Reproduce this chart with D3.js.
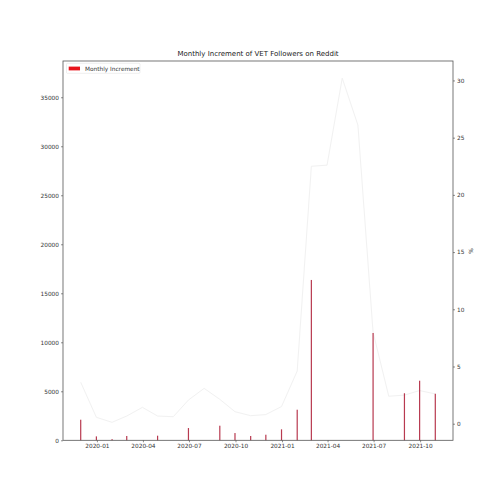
<!DOCTYPE html>
<html>
<head>
<meta charset="utf-8">
<script src="https://cdn.jsdelivr.net/npm/d3@7"></script>
<style>
  body { margin: 0; background: #fff; }
  text { font-family: "DejaVu Sans", sans-serif; }
</style>
</head>
<body>
<script>
const WIDTH = 503;
const HEIGHT = 503;

// month-end dates
const months = [
  "2019-11-30", "2019-12-31", "2020-01-31", "2020-02-29", "2020-03-31", "2020-04-30",
  "2020-05-31", "2020-06-30", "2020-07-31", "2020-08-31", "2020-09-30", "2020-10-31",
  "2020-11-30", "2020-12-31", "2021-01-31", "2021-02-28", "2021-03-31", "2021-04-30",
  "2021-05-31", "2021-06-30", "2021-07-31", "2021-08-31", "2021-09-30", "2021-10-31"
];

// monthly increment (left axis)
const increments = [
  2100, 400, 120, 440, 0, 470,
  0, 1250, 0, 1490, 740, 440,
  570, 1120, 3120, 16360, 0, 0,
  0, 10950, 0, 4800, 6080, 4750
];

// growth in % (right axis)
const growthPct = [
  3.62, 0.56, 0.12, 0.67, 1.43, 0.67,
  0.61, 2.07, 3.09, 2.13, 1.05, 0.7,
  0.8, 1.5, 4.6, 22.5, 22.6, 30.2,
  26.1, 8.0, 2.4, 2.5, 2.9, 2.6
];

const leftTicks = [0, 5000, 10000, 15000, 20000, 25000, 30000, 35000];
const rightTicks = [0, 5, 10, 15, 20, 25, 30];
const xTickLabels = ["2020-01", "2020-04", "2020-07", "2020-10", "2021-01", "2021-04", "2021-07", "2021-10"];

const parseDay = d3.utcParse("%Y-%m-%d");
const parseMonth = d3.utcParse("%Y-%m");
const dates = months.map(parseDay);

const plot = { left: 63, right: 453, top: 61, bottom: 440.3 };

const svg = d3.select("body")
  .append("svg")
  .attr("width", WIDTH)
  .attr("height", HEIGHT);

const x = d3.scaleUtc()
  .domain([d3.utcDay.offset(dates[0], -35), d3.utcDay.offset(dates[dates.length - 1], 35)])
  .range([plot.left, plot.right]);

const yLeft = d3.scaleLinear()
  .domain([0, 38700])
  .range([plot.bottom, plot.top]);

const yRight = d3.scaleLinear()
  .domain([-1.45, 31.7])
  .range([plot.bottom, plot.top]);

// faint growth line
const line = d3.line()
  .x((d, i) => x(dates[i]))
  .y(d => yRight(d));

svg.append("path")
  .datum(growthPct)
  .attr("fill", "none")
  .attr("stroke", "#f1f1f1")
  .attr("stroke-width", 1)
  .attr("d", line);

// bars
svg.selectAll(".bar")
  .data(increments)
  .enter()
  .append("rect")
  .attr("class", "bar")
  .attr("x", (d, i) => x(dates[i]) - 0.6)
  .attr("width", 1.2)
  .attr("y", d => yLeft(d))
  .attr("height", d => yLeft(0) - yLeft(d))
  .attr("fill", "#b83a50");

// frame
svg.append("rect")
  .attr("x", plot.left)
  .attr("y", plot.top)
  .attr("width", plot.right - plot.left)
  .attr("height", plot.bottom - plot.top)
  .attr("fill", "none")
  .attr("stroke", "#555")
  .attr("stroke-width", 0.8);

const styleAxis = g => {
  g.select(".domain").remove();
  g.selectAll("line").attr("stroke", "#444").attr("stroke-width", 0.6);
  g.selectAll("text")
    .style("font-size", "5.8px")
    .style("font-family", "DejaVu Sans, sans-serif")
    .style("fill", "#333");
};

svg.append("g")
  .attr("transform", `translate(${plot.left},0)`)
  .call(d3.axisLeft(yLeft).tickValues(leftTicks).tickSize(2).tickPadding(2).tickFormat(d3.format("d")))
  .call(styleAxis);

svg.append("g")
  .attr("transform", `translate(${plot.right},0)`)
  .call(d3.axisRight(yRight).tickValues(rightTicks).tickSize(2).tickPadding(2).tickFormat(d3.format("d")))
  .call(styleAxis);

svg.append("g")
  .attr("transform", `translate(0,${plot.bottom})`)
  .call(d3.axisBottom(x).tickValues(xTickLabels.map(parseMonth)).tickSize(2).tickPadding(2).tickFormat(d3.utcFormat("%Y-%m")))
  .call(styleAxis);

// right axis label
svg.append("text")
  .attr("transform", `translate(472.5,251) rotate(-90)`)
  .attr("text-anchor", "middle")
  .style("font-size", "5.8px")
  .style("fill", "#333")
  .text("%");

// title
svg.append("text")
  .attr("x", (plot.left + plot.right) / 2)
  .attr("y", 56)
  .attr("text-anchor", "middle")
  .style("font-size", "7px")
  .style("fill", "#222")
  .text("Monthly Increment of VET Followers on Reddit");

// legend
const legend = svg.append("g");
legend.append("rect")
  .attr("x", 66.5)
  .attr("y", 63.3)
  .attr("width", 73.5)
  .attr("height", 10)
  .attr("rx", 1)
  .attr("fill", "#fff")
  .attr("stroke", "#ddd")
  .attr("stroke-width", 0.5);
legend.append("rect")
  .attr("x", 68.7)
  .attr("y", 66.6)
  .attr("width", 11.3)
  .attr("height", 3.8)
  .attr("fill", "#e8141c");
legend.append("text")
  .attr("x", 85)
  .attr("y", 70.6)
  .style("font-size", "5.8px")
  .style("fill", "#333")
  .text("Monthly Increment");
</script>
</body>
</html>
